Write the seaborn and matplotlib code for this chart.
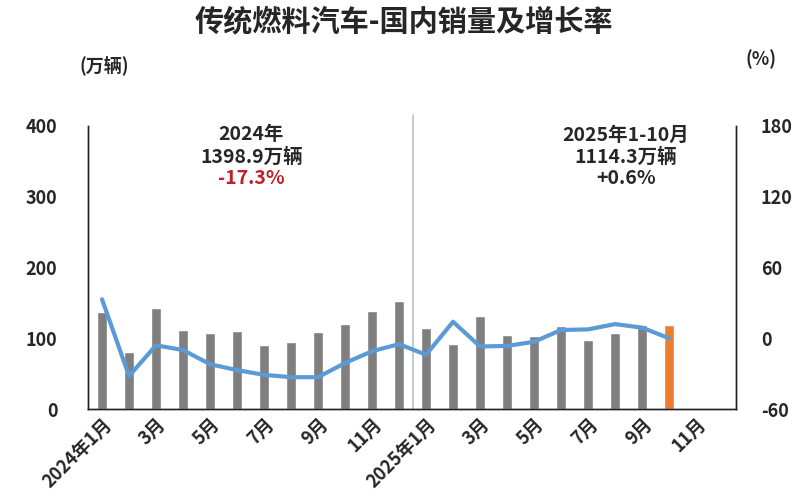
import pandas as pd
import matplotlib
matplotlib.use("Agg")
import matplotlib.pyplot as plt
import seaborn as sns

# 月度数据 (2024年1月 - 2025年10月)
months = ["2024-01", "2024-02", "2024-03", "2024-04", "2024-05", "2024-06",
          "2024-07", "2024-08", "2024-09", "2024-10", "2024-11", "2024-12",
          "2025-01", "2025-02", "2025-03", "2025-04", "2025-05", "2025-06",
          "2025-07", "2025-08", "2025-09", "2025-10"]
sales = [137, 80, 143, 111, 107, 110, 90, 94, 109, 120, 138, 152,
         115, 92, 132, 105, 103, 118, 98, 107, 119, 119]
growth = [33, -32, -6, -10, -22, -27, -31, -33, -33, -21, -11, -5,
          -14, 14, -7, -6.5, -3, 7, 7.5, 12, 9, 0]
tick_labels = ["2024年1月", "3月", "5月", "7月", "9月", "11月",
               "2025年1月", "3月", "5月", "7月", "9月", "11月"]

df = pd.DataFrame({"pos": range(len(months)), "sales": sales, "growth": growth})
df["kind"] = ["hist"] * (len(months) - 1) + ["latest"]

sns.set_theme(style="white")
plt.rcParams["font.family"] = ["Noto Sans CJK SC", "DejaVu Sans"]
plt.rcParams["font.weight"] = "bold"
plt.rcParams["axes.unicode_minus"] = False

fig = plt.figure(figsize=(8, 5.01), dpi=100)
ax = fig.add_axes([0.11, 0.1836, 0.81, 0.565])
ax2 = ax.twinx()

sns.barplot(data=df, x="pos", y="sales", hue="kind", native_scale=True,
            palette={"hist": "#7f7f7f", "latest": "#ed7d31"}, width=0.37,
            legend=False, ax=ax, saturation=1)
sns.lineplot(data=df, x="pos", y="growth", ax=ax2, color="#5b9bd5",
             linewidth=3, solid_joinstyle="round", solid_capstyle="round")

ax.set_xlim(-0.52, 23.48)
ax.set_ylim(0, 400)
ax2.set_ylim(-60, 180)
ax.set_yticks([0, 100, 200, 300, 400])
ax2.set_yticks([-60, 0, 60, 120, 180])
ax.set_xticks(range(0, 24, 2))
ax.set_xticklabels(tick_labels, rotation=45, ha="right", rotation_mode="anchor",
                   fontsize=13, fontweight="bold")
ax.tick_params(axis="y", labelsize=13, pad=22, length=0)
ax2.tick_params(axis="y", labelsize=13, pad=18, length=0)
ax.tick_params(axis="x", length=0, pad=4)
for t in ax.get_yticklabels() + ax2.get_yticklabels():
    t.set_fontweight("bold")
ax.set_xlabel("")
ax.set_ylabel("")
ax2.set_ylabel("")

for a in (ax, ax2):
    a.spines["top"].set_visible(False)
    for s in ("left", "right", "bottom"):
        a.spines[s].set_color("#222222")
        a.spines[s].set_linewidth(1.0)
ax.grid(False)
ax2.grid(False)

# 年份分隔线
ax.axvline(11.5, ymin=0, ymax=1.04, color="#b4c2cf", linewidth=1.2, clip_on=False)

fig.text(0.505, 0.958, "传统燃料汽车-国内销量及增长率", ha="center", va="center",
         fontsize=21, fontweight="bold")
fig.text(0.13, 0.870, "(万辆)", ha="center", va="center", fontsize=13, fontweight="bold")
fig.text(0.951, 0.882, "(%)", ha="center", va="center", fontsize=13, fontweight="bold")

fig.text(0.314, 1 - 135 / 501, "2024年", ha="center", va="center", fontsize=14, fontweight="bold")
fig.text(0.314, 1 - 157 / 501, "1398.9万辆", ha="center", va="center", fontsize=14, fontweight="bold")
fig.text(0.314, 1 - 178 / 501, "-17.3%", ha="center", va="center", fontsize=14,
         fontweight="bold", color="#c0202a")
fig.text(0.7825, 1 - 135 / 501, "2025年1-10月", ha="center", va="center", fontsize=14, fontweight="bold")
fig.text(0.7825, 1 - 157 / 501, "1114.3万辆", ha="center", va="center", fontsize=14, fontweight="bold")
fig.text(0.7825, 1 - 178 / 501, "+0.6%", ha="center", va="center", fontsize=14, fontweight="bold")

fig.savefig("out.png", dpi=100)
